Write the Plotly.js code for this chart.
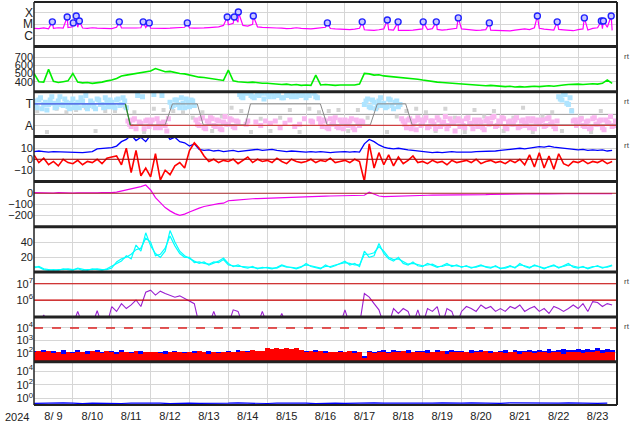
<!DOCTYPE html>
<html><head><meta charset="utf-8">
<script src="https://cdn.plot.ly/plotly-3.0.1.min.js"></script>
<style>html,body{margin:0;padding:0;background:#fff}#c{width:634px;height:424px}</style>
</head><body><div id="c"></div>
<script>
// ---- data (3-hourly unless noted), start 2024-08-09 00:00 UT ----
const xrayBaseC = [4.5,4.2,4.8,4.0,4.4,5.0,4.6,5.2, 6.0,5.5,4.8,4.5,5.0,4.6,4.3,4.0, 4.2,5.5,4.8,4.6,4.4,4.8,5.0,5.2,
 4.6,4.4,4.8,4.5,4.6,5.0,4.7,5.5, 4.8,4.6,4.5,4.9,5.2,5.5,6.0,8.0, 9.0,12,15,8,7,10,6,5.5,
 5.0,5.2,4.8,4.6,4.2,4.5,5.0,4.4, 4.2,4.0,4.5,4.8,5.5,4.3,4.0,3.8, 3.6,3.5,3.8,4.5,3.4,3.2,3.0,3.4,
 4.0,3.5,3.2,3.0,2.8,3.0,3.2,3.8, 4.0,3.5,4.2,3.6,3.2,3.5,3.8,4.5, 4.0,3.6,3.3,3.0,3.2,3.5,3.1,3.0,
 2.8,2.6,2.7,3.2,3.6,4.0,3.5,5.0, 4.5,3.8,3.5,3.2,3.6,3.3,3.0,2.8, 3.5,4.0,3.2,4.5,5.0,4.2,5.5,3.0];
const flareTimes = ['2024-08-09 11:20','2024-08-09 20:30','2024-08-10 00:15','2024-08-10 02:05','2024-08-10 04:00',
 '2024-08-11 04:40','2024-08-11 19:25','2024-08-11 23:10','2024-08-12 22:40','2024-08-13 23:20','2024-08-14 03:40',
 '2024-08-14 06:10','2024-08-14 15:25','2024-08-16 13:10','2024-08-17 10:40','2024-08-18 02:10','2024-08-18 08:50',
 '2024-08-19 00:20','2024-08-19 08:25','2024-08-19 22:00','2024-08-20 17:10','2024-08-21 22:50','2024-08-22 11:05',
 '2024-08-23 03:50','2024-08-23 14:20','2024-08-23 15:35','2024-08-23 20:25'];
const flareFlux = [1.6e-5,4.2e-5,1.3e-5,5.1e-5,1.9e-5, 1.6e-5,1.6e-5,1.3e-5,1.3e-5,4.2e-5,4.2e-5,
 1.1e-4,5.1e-5,1.3e-5,1.6e-5,2.3e-5,1.6e-5, 1.6e-5,1.6e-5,3.5e-5,1.3e-5,5.1e-5,1.6e-5,
 3.5e-5,1.9e-5,1.9e-5,5.1e-5];
const speed = [500,400,395,550,405,390,400,410, 500,395,385,390,380,385,395,410, 420,440,470,480,490,500,505,520,
 530,560,540,520,525,510,500,495, 480,470,455,450,440,430,420,415, 540,410,400,395,390,395,385,380,
 380,375,370,365,370,360,365,355, 360,355,480,360,365,360,355,360, 360,365,360,370,500,495,480,485,
 470,465,460,455,450,445,440,430, 420,410,400,395,390,385,380,375, 370,365,360,360,355,350,355,350,
 345,340,345,335,340,335,340,345, 340,345,350,345,355,360,365,370, 370,365,370,375,370,380,420,380];
// IMF sector angle index, 2-hourly (+ toward, - away); second set offset by 1 h
const phi = [1.2,0.6,1.5,0.9,0.4,1.3,1.0,0.7,1.6,0.8,1.1,0.5, 1.4,0.9,0.6,1.2,1.7,0.8,1.0,0.5,1.3,0.9,1.5,0.7,
 1.1,0.6,1.4,0.9,1.2,-0.6,-1.1,-0.4,1.7,-0.8,-1.3,-0.5, -0.9,1.8,-0.4,-1.2,-0.7,-1.5,1.1,0.8,1.3,0.6,1.0,1.4,
 0.7,1.2,-0.5,-1.0,-0.3,-1.3,-0.8,-0.4,-1.1,-0.6,-1.4,-0.2, -0.9,-0.5,-1.2,-0.7,1.6,1.9,-0.6,1.7,1.5,1.8,-1.0,1.4,
 1.9,-0.8,1.6,1.8,-1.2,1.5,1.7,-0.5,1.9,1.6,-0.9,1.8, 1.5,1.7,-0.7,1.6,-0.4,-1.1,-0.6,-1.3,-0.9,-0.3,-1.2,-0.7,
 -0.5,-1.0,-0.4,-1.4,-0.8,-0.6,0.9,1.4,0.6,1.1,0.8,1.5, 1.0,0.7,1.3,0.5,1.2,0.9,-0.6,-1.2,-0.4,-0.9,-1.4,-0.5,
 -0.8,-0.3,-1.1,-0.6,-1.3,-0.5,-0.9,-0.2,-1.0,-0.7,-1.5,-0.4, -0.6,-1.2,-0.3,-0.9,-0.5,-1.1,-0.7,-1.4,-0.4,-0.8,-0.2,-1.0,
 -0.7,-0.4,-1.3,-0.6,-0.9,-0.3,-1.1,-0.5,-0.8,-1.2,-0.4,-0.7, -0.9,-0.5,-1.0,-0.3,-0.7,-1.3,1.6,1.3,1.8,0.9,0.3,-0.5,
 -0.8,-0.4,-1.1,-0.6,-1.2,-0.3,-0.9,-0.5,-1.4,-0.7,-0.2,-1.0];
const phi2 = [0.8,1.3,0.5,1.1,0.9,1.6,0.6,1.2,0.9,1.4,0.7,1.0, 0.6,1.1,1.5,0.8,0.5,1.2,0.7,1.4,0.9,0.6,1.1,1.3,
 0.7,1.3,0.8,1.5,0.6,-0.9,-0.5,-1.3,-0.7,1.6,-0.6,-1.1, -0.5,-1.2,-0.8,1.7,-1.0,-0.4,0.7,1.3,0.9,1.5,0.6,1.1,
 1.3,0.8,-0.9,-0.4,-1.2,-0.6,-0.3,-1.0,-0.5,-1.3,-0.7,-0.9, -0.4,-1.1,-0.6,1.8,1.5,-0.9,1.9,1.6,-0.7,1.7,1.9,-0.6,
 1.6,1.9,-0.6,1.7,1.5,-0.8,1.9,1.6,-1.1,1.8,1.7,-0.4, 1.8,-0.6,1.9,1.5,-0.8,-0.5,-1.2,-0.4,-0.7,-1.1,-0.5,-1.3,
 -0.9,-0.6,-1.2,-0.5,-1.0,-0.7,1.2,0.7,1.3,0.5,1.2,0.8, 0.6,1.4,0.8,1.1,0.7,-0.4,-0.9,-0.5,-1.3,-0.6,-0.3,-1.0,
 -0.5,-1.2,-0.6,-0.9,-0.3,-1.1,-0.7,-1.3,-0.4,-0.8,-0.6,-1.1, -1.0,-0.4,-0.8,-1.3,-0.7,-0.5,-1.2,-0.6,-0.9,-0.3,-1.1,-0.6,
 -0.3,-1.1,-0.7,-0.9,-0.5,-1.2,-0.6,-1.0,-0.4,-0.6,-1.3,-0.5, -0.6,-1.1,-0.4,-0.9,-1.1,-0.6,1.4,1.8,1.0,1.5,-0.6,-1.0,
 -0.5,-1.0,-0.7,-1.3,-0.4,-0.9,-0.6,-1.2,-0.5,-0.8,-1.1,-0.6];
// undetermined-direction samples, 6-hourly
const phiGray = [0.3,-1.6,0.5,0.2,0.4,0.6,-1.5,0.3, 0.3,0.7,0.2,-1.6,0.5,0.4,0.3,0.2, -0.3,0.2,-1.5,-0.2,0.6,0.3,-1.6,-0.4,
 -1.5,-0.3,0.4,-1.6,0.5,0.2,0.3,0.4, -1.5,0.4,-0.3,0.6,-1.6,-0.2,0.3,0.5, 0.2,-1.5,0.5,-0.3,-1.6,0.4,-0.2,0.3,
 -1.5,-0.3,0.6,-1.6,-0.2,0.2,-1.5,0.4, -0.3,-1.6,0.3,-0.2];
const sectorTimes = ['2024-08-09 00:00','2024-08-11 08:25','2024-08-11 11:30','2024-08-12 09:00','2024-08-12 13:30',
 '2024-08-13 04:50','2024-08-13 08:30','2024-08-14 10:30','2024-08-14 13:40','2024-08-16 08:50','2024-08-16 13:00',
 '2024-08-17 15:40','2024-08-17 20:00','2024-08-18 13:30','2024-08-18 17:30','2024-08-24 00:00'];
const sectorLevel = [0.95,0.95,-0.95,-0.95,0.95,0.95,-0.95,-0.95,0.95,0.95,-0.95,-0.95,0.95,0.95,-0.95,-0.95];
const obsTimes = ['2024-08-09 00:00','2024-08-11 08:25','2024-08-11 11:30','2024-08-24 00:00'];
const obsLevel = [0.95,0.95,-1.0,-1.0];
const bt = [7,7.5,7,6.5,7,6.8,6.5,6.5, 6.5,6.2,6,6.5,7,9.5,10,10, 10.5,12,16,18,22,17,20,16,
 22,25,22,24,18,20,16,15, 12,14,9,8,8.5,7.5,8,7, 7.5,8,7,7.5,8,8.5,9,8, 8.5,9,8,7.5,7,7.5,7,6.5,
 6.5,7,6.5,7,6.5,6,6.5,7, 7,6.5,7,6.5,14,18,16,13, 11,10,9.5,10,9,8.5,8,7.5, 7,6.5,6,6.5,6,6.5,7,6.5,
 6.5,6,6.5,7,7,7.5,7,7.5, 8,8.5,9,9.5,10,9.5,10,11, 11.5,11,12,11,10.5,10,9.5,9, 8.5,9,8,8.5,8,8.5,7.5,8];
const bz = [4,-3,1,-5,-2,-6,0,-3, -4,-1,-5,-2,-3,0,-4,1, 2,3,-5,10,-12,8,-15,-8,
 -16,5,-19,-10,-14,-6,-3,-8, 8,15,10,3,-2,0,-3,-1, -2,0,-4,-1,2,-3,0,-2, -1,-3,1,-2,-4,0,-2,-3,
 -2,0,-3,-1,-2,1,-3,-2, -1,-3,0,-2,-20,14,-8,6, -5,4,-6,2,-4,-1,3,-3, -2,-4,-1,-3,-2,-5,-1,-3,
 -2,-1,-3,0,-4,-2,-1,-3, -2,-4,-1,-3,0,-5,4,-7, 6,-8,3,-9,5,-4,-6,-2, -3,-1,-4,-2,-3,-1,-4,-2];
const dst = [5,3,6,4,2,5,3,4, 2,4,3,5,2,4,6,3, 5,10,20,30,40,45,60,75,
 30,-40,-90,-130,-160,-185,-200,-190, -170,-150,-135,-120,-110,-100,-95,-90, -68,-65,-60,-57,-53,-50,-48,-46,
 -45,-43,-42,-40,-38,-37,-36,-35, -34,-32,-30,-28,-26,-25,-24,-23, -22,-21,-20,-20,-18,10,-10,-25,
 -30,-28,-27,-25,-24,-22,-21,-20, -19,-18,-17,-17,-16,-16,-15,-15, -16,-15,-18,-15,-14,-12,-10,-9,
 -8,-8,-7,-6,-5,-6,-4,-5, -4,-3,-5,-4,-3,-2,-4,-3, -3,-2,-4,-3,-2,-3,-2,-4];
const cyanA = [8,7,4,3,4,3,5,4, 3,6,4,3,5,4,3,5, 8,12,15,22,18,36,28,52,
 35,25,20,28,55,40,28,22, 18,15,12,14,10,12,15,19, 12,8,10,7,6,8,5,7, 6,5,7,10,8,6,5,7,
 12,8,6,5,10,7,9,12, 15,10,12,8,28,20,22,38, 25,18,15,20,12,10,14,9, 8,12,10,7,9,12,8,10,
 7,9,6,8,10,7,6,9, 5,7,9,6,12,8,6,10, 7,5,8,10,6,9,12,7, 6,8,5,7,9,6,8,10];
const cyanB = [6,8,5,4,3,4,4,5, 4,5,3,4,4,5,4,4, 6,14,18,20,24,30,32,45,
 40,22,24,32,48,35,25,20, 20,13,14,12,11,14,13,17, 10,9,8,8,7,6,6,6, 7,6,6,9,7,7,6,8,
 10,9,7,6,8,8,10,11, 13,12,10,10,24,24,26,34, 28,20,17,18,14,11,12,10, 9,10,11,8,8,10,9,9,
 8,8,7,7,9,8,7,8, 6,6,8,7,10,9,7,9, 8,6,7,9,7,8,10,8, 7,7,6,8,8,7,7,9];
const purple = [3e4,3e4,1.2e5,3e4,3e4,3e4,3e4,3e4, 3e4,2e5,3e4,3e4,3e4,2.2e5,3e4,3e4, 4e5,2e5,6e5,3e5,5e5,1e6,4e5,3e6,
 4e6,2e6,3.5e6,2.5e6,2e6,1.5e6,1.8e6,1.2e6, 8e5,6e5,3e4,3e4,3e4,2e5,3e4,3e4, 3e4,2.5e5,2e5,3e4,3e4,3e4,3e4,2e5,
 3e4,3e4,3e4,1.5e5,3e4,3e4,3e4,3e4, 3e4,3e4,3e4,3e4,3e4,3e4,3e4,3e4, 2.5e5,3e4,3e4,3e4,2.5e6,1.5e6,6e5,2.5e5,
 3e4,3e4,3e5,1.5e5,3e5,2e5,3e4,2.5e5, 3e4,3e5,2e5,4e5,3e4,3e5,2e5,3e4, 2e5,4e5,3e5,2e5,5e5,3e5,4e5,2e5,
 3e5,2e5,4e5,3e5,5e5,2e5,3e5,4e5, 2e5,3e5,1.5e5,4e5,3e5,2e5,3e5,5e5, 3e5,6e5,2e5,8e5,7e5,4e5,6e5,5e5];
const fluxBlue = [140,110,180,120,150,100,170,130, 120,160,90,140,110,170,130,100, 150,120,160,90,130,110,140,100,
 130,90,120,150,100,140,110,130, 110,150,120,90,140,100,130,120, 140,110,160,120,150,130,110,140,
 180,150,200,170,220,160,190,150, 140,120,160,110,150,130,120,140, 130,110,150,120,60,140,120,150,
 160,130,170,140,120,160,130,150, 140,170,130,160,120,150,180,140, 150,130,170,140,160,120,150,130,
 140,160,130,170,150,140,180,150, 160,140,190,150,170,200,160,180, 190,160,210,170,230,180,200,170];
const fluxRed = [120,150,110,140,100,130,90,120, 100,130,110,90,150,120,100,140, 110,90,130,120,100,140,90,120,
 110,130,100,90,120,110,130,100, 120,100,140,110,90,120,100,130, 110,130,120,150,110,160,140,150,
 230,190,260,210,240,200,250,180, 130,150,110,140,100,120,130,110, 120,140,100,130,40,120,100,110,
 130,100,120,110,140,100,120,110, 120,100,130,110,140,90,120,110, 110,130,100,120,110,140,100,120,
 120,100,110,130,90,120,110,100, 110,120,100,130,110,90,120,110, 120,100,130,110,140,100,120,130];
// 6-hourly
const lowBlue = [0.2,0.22,0.19,0.23,0.21,0.18,0.22,0.2,0.21,0.19,0.21,0.23,0.2,0.22,0.18,0.21,0.22,0.2,0.19,0.21,
 0.21,0.23,0.2,0.22,0.19,0.21,0.22,0.2,0.21,0.18,0.21,0.22,0.2,0.22,0.19,0.23,0.21,0.2,0.22,0.23,
 0.19,0.21,0.23,0.2,0.22,0.24,0.21,0.23,0.2,0.23,0.22,0.21,0.23,0.2,0.22,0.23,0.21,0.23,0.2,0.22];

// ---- helpers ----
function timesFrom(n, stepH, offH){
  const t0 = Date.UTC(2024,7,9) + (offH||0)*3600e3;
  return Array.from({length:n},(_,i)=>new Date(t0+i*stepH*3600e3).toISOString().slice(0,16).replace('T',' '));
}
const t3 = timesFrom(120,3), t2 = timesFrom(180,2), t2b = timesFrom(180,2,1), t6 = timesFrom(60,6), t6b = timesFrom(60,6,2);
const xr = t3.map((t,i)=>[t,xrayBaseC[i]*1e-6]).concat(flareTimes.map((t,i)=>[t,flareFlux[i]]));
xr.sort((a,b)=>a[0]<b[0]?-1:a[0]>b[0]?1:0);
const sectColor = v=>v>0?'#aee4ff':'#f9b6ef';

const traces = [
 {x:xr.map(p=>p[0]), y:xr.map(p=>p[1]), yaxis:'y', mode:'lines', line:{color:'#ff00ff',width:1.2}},
 {x:flareTimes, y:flareFlux, yaxis:'y', mode:'markers', marker:{symbol:'circle',size:6,color:'#c8c8ff',line:{color:'#2222ff',width:1.4}}},
 {x:t3, y:speed, yaxis:'y2', mode:'lines', line:{color:'#00ee00',width:1.6}},
 {x:t6b, y:phiGray, yaxis:'y3', mode:'markers', marker:{size:4,symbol:'square',color:'#d4d4d4'}},
 {x:t2, y:phi, yaxis:'y3', mode:'markers', marker:{size:5,symbol:'square',color:phi.map(sectColor)}},
 {x:t2b, y:phi2, yaxis:'y3', mode:'markers', marker:{size:5,symbol:'square',color:phi2.map(sectColor)}},
 {x:sectorTimes, y:sectorLevel, yaxis:'y3', mode:'lines', line:{color:'#888',width:1}},
 {x:obsTimes.slice(0,2), y:obsLevel.slice(0,2), yaxis:'y3', mode:'lines', line:{color:'#4466ff',width:1.3}},
 {x:obsTimes.slice(1,3), y:obsLevel.slice(1,3), yaxis:'y3', mode:'lines', line:{color:'#2a8a2a',width:1.3}},
 {x:obsTimes.slice(2,4), y:obsLevel.slice(2,4), yaxis:'y3', mode:'lines', line:{color:'#d04040',width:1.3}},
 {x:t3, y:bt, yaxis:'y4', mode:'lines', line:{color:'#0000ff',width:1.3}},
 {x:t3, y:bz, yaxis:'y4', mode:'lines', line:{color:'#ff0000',width:1.6}},
 {x:t3, y:dst, yaxis:'y5', mode:'lines', line:{color:'#ee00ee',width:1.2}},
 {x:t3, y:cyanB, yaxis:'y6', mode:'lines', line:{color:'#00ffff',width:1.2}},
 {x:t3, y:cyanA, yaxis:'y6', mode:'lines', line:{color:'#00ffff',width:1.2}},
 {x:t3, y:purple, yaxis:'y7', mode:'lines', line:{color:'#9a20d0',width:1.1}},
 {x:t3, y:fluxBlue, yaxis:'y8', type:'bar', marker:{color:'#0000ff',line:{width:0}}},
 {x:t3, y:fluxRed, yaxis:'y8', type:'bar', marker:{color:'#ff0000',line:{width:0}}},
 {x:t6, y:lowBlue, yaxis:'y9', mode:'lines', line:{color:'#0000ff',width:1.2}}
];
traces.forEach(t=>{t.xaxis='x'; t.showlegend=false; t.hoverinfo='skip';});

const bounds = [1,0.8896,0.7774,0.6663,0.5546,0.4424,0.33,0.2184,0.1074,0];
const F = {family:'"Liberation Sans", Arial, sans-serif', size:11, color:'#222'};
function yax(i, extra){
  return Object.assign({domain:[bounds[i+1],bounds[i]], anchor:'x', showgrid:true, gridcolor:'#d6d6d6', gridwidth:1,
    zeroline:false, showline:false, ticks:'', tickfont:F, fixedrange:true}, extra);
}
const sup = n=>'10<sup>'+n+'</sup>';
const layout = {
  width:634, height:424, margin:{l:34,r:17,t:2,b:19}, paper_bgcolor:'#fff', plot_bgcolor:'#fff',
  font:F, showlegend:false, barmode:'overlay', bargap:0,
  xaxis:{type:'date', range:['2024-08-09 00:00','2024-08-24 00:00'], anchor:'y9', tick0:'2024-08-09', dtick:86400000,
    ticklabelmode:'period', tickformat:'%-m/%e', showgrid:true, gridcolor:'#d6d6d6', zeroline:false, showline:false,
    ticks:'', tickfont:F, ticklabelstandoff:3},
  yaxis: yax(0,{type:'log', range:[-6.9,-3.1], tickvals:[1e-6,1e-5,1e-4], ticktext:['C','M','X'], tickfont:Object.assign({},F,{size:12})}),
  yaxis2: yax(1,{range:[278,828], tickvals:[400,500,600,700]}),
  yaxis3: yax(2,{range:[-2,2.05], tickvals:[-1,1], ticktext:['A','T'], tickfont:Object.assign({},F,{size:12})}),
  yaxis4: yax(3,{range:[-20.2,20.7], tickvals:[-10,0,10]}),
  yaxis5: yax(4,{range:[-304,107], tickvals:[-200,-100,0]}),
  yaxis6: yax(5,{range:[0.8,60], tickvals:[20,40]}),
  yaxis7: yax(6,{type:'log', range:[4.96,7.72], tickvals:[1e6,1e7], ticktext:[sup(6),sup(7)]}),
  yaxis8: yax(7,{type:'log', range:[1.3,4.88], tickvals:[1e2,1e3,1e4], ticktext:[sup(2),sup(3),sup(4)]}),
  yaxis9: yax(8,{type:'log', range:[-0.94,5.35], tickvals:[1,1e2,1e4], ticktext:[sup(0),sup(2),sup(4)]}),
  shapes:[], annotations:[]
};
layout.shapes.push({type:'line',xref:'paper',x0:0,x1:1,yref:'y3',y0:0,y1:0,line:{color:'#999',width:1},layer:'below'});
layout.shapes.push({type:'line',xref:'paper',x0:0,x1:1,yref:'y4',y0:0,y1:0,line:{color:'#a00000',width:1.2}});
layout.shapes.push({type:'line',xref:'paper',x0:0,x1:1,yref:'y5',y0:0,y1:0,line:{color:'#b03030',width:1.2}});
layout.shapes.push({type:'line',xref:'paper',x0:0,x1:1,yref:'y7',y0:1e6,y1:1e6,line:{color:'#cc0000',width:1.2}});
layout.shapes.push({type:'line',xref:'paper',x0:0,x1:1,yref:'y7',y0:1e7,y1:1e7,line:{color:'#cc0000',width:1.2}});
layout.shapes.push({type:'line',xref:'paper',x0:0,x1:1,yref:'y8',y0:1e4,y1:1e4,line:{color:'#dd2222',width:1.5,dash:'dash'}});
bounds.forEach((b,i)=>layout.shapes.push({type:'line',xref:'paper',yref:'paper',x0:0,x1:1,y0:b,y1:b,
  line:{color:'#222',width:(i===0||i===9)?2:3}}));
layout.shapes.push({type:'line',xref:'paper',yref:'paper',x0:0,x1:0,y0:0,y1:1,line:{color:'#222',width:1.5}});
layout.shapes.push({type:'line',xref:'paper',yref:'paper',x0:1,x1:1,y0:0,y1:1,line:{color:'#222',width:2}});
const rtY = [0.864,0.7526,0.6427,0.306,0.1943];
rtY.forEach(y=>layout.annotations.push({xref:'paper',yref:'paper',x:1.008,y:y,xanchor:'left',yanchor:'middle',
  text:'rt',showarrow:false,font:{family:F.family,size:8,color:'#444'}}));
layout.annotations.push({xref:'paper',yref:'paper',x:-0.029,y:-0.03,xanchor:'center',yanchor:'middle',text:'2024',
  showarrow:false,font:F});

Plotly.newPlot('c', traces, layout, {staticPlot:true, displayModeBar:false});
</script></body></html>
